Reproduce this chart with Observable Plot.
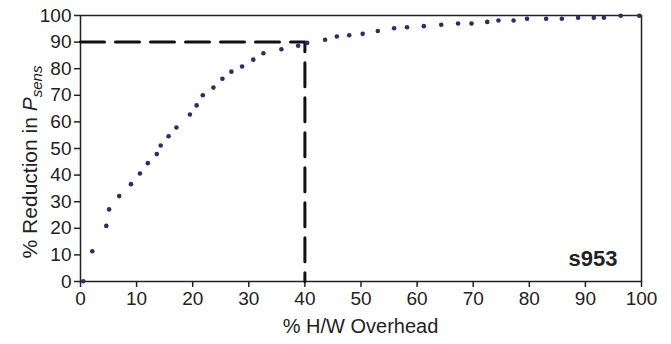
<!DOCTYPE html>
<html>
<head>
<meta charset="utf-8">
<script src="https://cdn.jsdelivr.net/npm/d3@7"></script>
<script src="https://cdn.jsdelivr.net/npm/@observablehq/plot@0.6"></script>
<style>
  html, body { margin: 0; padding: 0; background: #fff; }
  #chart svg { display: block; font-family: "Liberation Sans", Arial, sans-serif; }
</style>
</head>
<body>
<div id="chart"></div>
<script>
// % H/W overhead (x) vs % reduction in P_sens (y)
const overhead = [0.5, 2.1, 4.6, 5.1, 6.9, 9.0, 10.6, 12.0, 13.6, 14.3, 15.7, 17.1, 19.5, 20.7, 21.8, 23.7, 25.3, 26.9, 28.8, 30.8, 32.6, 35.8, 38.8, 40.4, 43.6, 45.7, 47.9, 50.3, 53.0, 55.9, 58.2, 61.2, 64.3, 67.3, 69.7, 72.5, 74.5, 77.2, 79.6, 83.0, 85.8, 88.7, 91.5, 93.3, 96.3, 99.6];
const reduction = [0.1, 11.4, 20.9, 27.1, 32.1, 36.6, 40.6, 44.5, 47.9, 51.1, 54.6, 57.9, 62.8, 66.2, 70.0, 72.9, 76.2, 78.9, 80.8, 83.4, 85.8, 87.3, 88.6, 89.7, 90.9, 92.1, 92.6, 93.1, 94.2, 95.2, 95.6, 96.0, 96.5, 97.0, 97.0, 97.6, 98.1, 98.1, 98.8, 98.8, 98.8, 99.2, 99.2, 99.2, 99.9, 99.9];
const xTicks = [0, 10, 20, 30, 40, 50, 60, 70, 80, 90, 100];
const yTicks = [0, 10, 20, 30, 40, 50, 60, 70, 80, 90, 100];
const refX = [0, 40, 40];
const refY = [90, 90, 0];
const circuitLabel = ["s953"];

const points = overhead.map((x, i) => ({x, y: reduction[i]}));
const refLine = refX.map((x, i) => ({x, y: refY[i]}));

const chart = Plot.plot({
  width: 671,
  height: 344,
  marginLeft: 80,
  marginRight: 30,
  marginTop: 15,
  marginBottom: 63,
  style: {fontFamily: "'Liberation Sans', Arial, sans-serif", background: "#fff", color: "#222"},
  x: {domain: [0, 100]},
  y: {domain: [0, 100]},
  marks: [
    Plot.frame({stroke: "#222", strokeWidth: 1.5}),
    Plot.axisX({ticks: xTicks, tickSize: 6, tickPadding: 4, fontSize: 19, label: null, stroke: "#222", strokeWidth: 1.5}),
    Plot.axisY({ticks: yTicks, tickSize: 6, tickPadding: 3, fontSize: 19, label: null, stroke: "#222", strokeWidth: 1.5}),
    Plot.line(refLine, {x: "x", y: "y", stroke: "#111", strokeWidth: 3, strokeDasharray: "24,11"}),
    Plot.dot(points, {x: "x", y: "y", r: 2.3, fill: "#2d2a6e", stroke: "none"}),
    Plot.text(circuitLabel, {text: d => d, frameAnchor: "bottom-right", textAnchor: "end", lineAnchor: "bottom", dx: -24, dy: -16, fontSize: 22, fontWeight: "bold", fill: "#222"})
  ]
});

document.getElementById("chart").appendChild(chart);

const svg = d3.select(chart);
// x axis title
svg.append("text")
  .attr("x", 80 + (671 - 80 - 30) / 2)
  .attr("y", 333)
  .attr("text-anchor", "middle")
  .attr("font-size", 20)
  .attr("fill", "#222")
  .text("% H/W Overhead");
// y axis title with subscript
const yt = svg.append("text")
  .attr("transform", "translate(37,162) rotate(-90)")
  .attr("text-anchor", "middle")
  .attr("font-size", 21)
  .attr("fill", "#222");
yt.append("tspan").text("% Reduction in ");
yt.append("tspan").attr("font-style", "italic").text("P");
yt.append("tspan").attr("font-style", "italic").attr("font-size", 15).attr("dy", 5).text("sens");
</script>
</body>
</html>
